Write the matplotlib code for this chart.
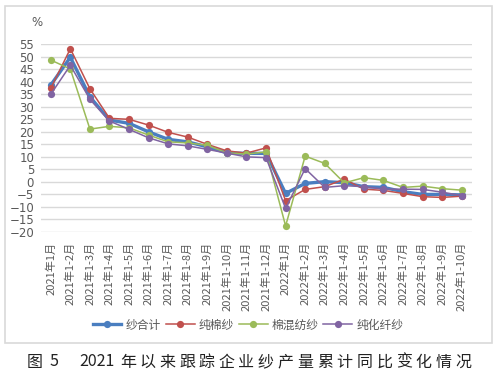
import matplotlib.pyplot as plt
from matplotlib.patches import Rectangle

plt.rcParams['font.family'] = ['Noto Sans CJK SC', 'DejaVu Sans']

months = ["2021年1月", "2021年1-2月", "2021年1-3月", "2021年1-4月", "2021年1-5月",
          "2021年1-6月", "2021年1-7月", "2021年1-8月", "2021年1-9月", "2021年1-10月",
          "2021年1-11月", "2021年1-12月", "2022年1月", "2022年1-2月", "2022年1-3月",
          "2022年1-4月", "2022年1-5月", "2022年1-6月", "2022年1-7月", "2022年1-8月",
          "2022年1-9月", "2022年1-10月"]

# 纱合计
yarn_total = [38.6, 49.7, 33.9, 24.6, 23.3, 19.9, 16.9, 15.9, 13.9, 11.5, 11.3,
              11.3, -4.7, -0.7, 0.0, -0.4, -2.0, -2.3, -4.0, -5.1, -5.1, -5.3]
# 纯棉纱
cotton = [37.3, 53.1, 37.1, 25.3, 24.9, 22.6, 19.7, 17.8, 14.9, 12.3, 11.4,
          13.5, -7.6, -3.1, -2.0, 1.0, -3.0, -3.5, -4.7, -6.0, -6.3, -5.8]
# 棉混纺纱
blended = [48.6, 45.0, 21.0, 22.1, 21.5, 18.6, 15.9, 15.5, 14.5, 11.5, 11.0,
           11.9, -17.7, 10.2, 7.3, -0.5, 1.6, 0.5, -2.3, -1.8, -2.8, -3.4]
# 纯化纤纱
synthetic = [34.9, 46.5, 32.9, 24.2, 20.9, 17.5, 15.1, 14.3, 12.9, 11.4, 9.9,
             9.6, -10.7, 5.2, -2.3, -1.6, -2.0, -3.0, -3.0, -3.1, -4.2, -5.6]

names = ["纱合计", "纯棉纱", "棉混纺纱", "纯化纤纱"]
colors = ["#4A7EC0", "#C0504D", "#9BBB59", "#8064A2"]
widths = [2.4, 1.1, 1.1, 1.1]
series = [yarn_total, cotton, blended, synthetic]

caption_head = ["图", "5", "2021"]
caption_body = "年以来跟踪企业纱产量累计同比变化情况"

fig = plt.figure(figsize=(5, 3.84), dpi=100)
fig.patches.append(Rectangle((5 / 500, 1 - 343 / 384), 487 / 500, 337 / 384,
                             transform=fig.transFigure, fill=False,
                             edgecolor="#D9D9D9", linewidth=1.2))

ax = fig.add_axes([0.082, 0.3966, 0.861, 0.4888])
x = list(range(len(months)))
for vals, name, c, w in zip(series, names, colors, widths):
    ax.plot(x, vals, color=c, linewidth=w, marker="o", markersize=5.2,
            markeredgewidth=0, label=name)

ax.set_xlim(-0.5, len(months) - 0.5)
ax.set_ylim(-20, 55)
ax.set_yticks(range(-20, 56, 5))
ax.yaxis.grid(True, color="#D9D9D9", linewidth=1)
ax.set_axisbelow(True)
for s in ax.spines.values():
    s.set_visible(False)
ax.set_xticks(x)
ax.set_xticklabels(months, rotation=90, fontsize=8, color="#595959")
ax.tick_params(axis="both", length=0)
ax.tick_params(axis="y", labelsize=8.5, labelcolor="#595959", pad=5)
ax.tick_params(axis="x", pad=7.5)
for lab in ax.get_yticklabels():
    lab.set_family("DejaVu Sans")

fig.text(37 / 500, 1 - 22 / 384, "%", fontsize=8.5, color="#595959",
         ha="center", va="center", family="DejaVu Sans")

leg = fig.legend(loc="center", bbox_to_anchor=(248 / 500, 1 - 325 / 384), ncol=4,
                 frameon=False, fontsize=8.5, handlelength=2.45,
                 handletextpad=0.35, columnspacing=0.4, borderpad=0)
for t in leg.get_texts():
    t.set_color("#595959")

# caption, spaced out like the printed figure title
cy = 1 - 362 / 384
for s, px in zip(caption_head, [35, 54, 97]):
    fig.text(px / 500, cy, s, fontsize=11.5, color="#222222", ha="center",
             va="center", fontweight="light")
for i, ch in enumerate(caption_body):
    fig.text((128 + i * 19.7) / 500, cy, ch, fontsize=11.5, color="#222222",
             ha="center", va="center", fontweight="light")

fig.savefig("out.png", dpi=100)
